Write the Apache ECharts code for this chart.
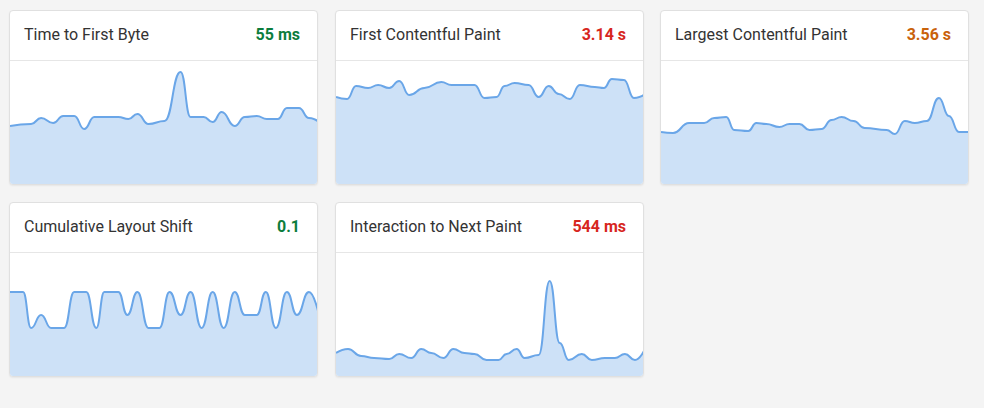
<!DOCTYPE html>
<html><head><meta charset="utf-8">
<script src="https://cdn.jsdelivr.net/npm/echarts@6/dist/echarts.min.js"></script>
<style>
html,body{margin:0;padding:0;background:#f4f4f4;font-family:Roboto,"Noto Sans",sans-serif;}
.card{position:absolute;width:309px;height:175px;background:#fff;border:1px solid #e0e0e0;border-radius:4px;box-sizing:border-box;overflow:hidden;box-shadow:0 1px 2px rgba(0,0,0,0.06);}
.hd{height:49px;border-bottom:1px solid #e6e6e6;display:flex;align-items:center;justify-content:space-between;padding:0 17px 3px 14px;box-sizing:border-box;height:50px;font-size:16px;color:#333;}
.hd b{font-weight:700;}
.ch{position:absolute;left:0;top:50px;width:309px;height:125px;}
</style></head><body>
<div id="root"></div>
<script>
const titles=["Time to First Byte","First Contentful Paint","Largest Contentful Paint","Cumulative Layout Shift","Interaction to Next Paint"];
const valueLabels=["55 ms","3.14 s","3.56 s","0.1","544 ms"];
const valueColors=["#0c7d3d","#d7261e","#c9620b","#0c7d3d","#d7261e"];
const ttfbX=[0,21,31,43,53,64,74,84,108,118,127,138,154,170,180,193,202,211,224,234,246,256,267,276,288,298,308];
const ttfbY=[60,62,68,63,70,70,57,69,69,67,72,62,65,114,69,69,64,74,60,69,70,67,67,78,78,68,64];
const fcpX=[0,11,20,32,42,53,63,73,88,105,115,138,148,160,168,178,192,202,212,222,233,243,258,267,275,287,297,308];
const fcpY=[89,87,100,98,101,98,105,91,98,104,101,101,88,89,100,103,101,89,100,92,87,101,99,98,107,106,88,92];
const lcpX=[0,12,28,43,53,65,73,87,95,105,118,128,138,148,160,170,180,192,203,225,233,243,253,265,277,287,297,308];
const lcpY=[54,53,63,63,68,69,56,55,63,62,59,62,62,56,57,66,69,65,58,56,52,65,63,65,88,70,54,54];
const clsX=[0,13,21,31,41,54,64,76,86,94,108,117,127,138,149,159,170,180,191,202,213,224,234,246,255,265,276,286,298,308];
const clsY=[86,86,50,63,50,50,86,86,50,86,86,63,86,50,50,86,63,86,50,86,50,86,63,63,86,50,86,63,86,63];
const inpX=[0,12,25,38,53,63,75,85,95,107,117,128,138,150,162,170,180,188,202,213,223,232,245,255,268,278,288,298,308];
const inpY=[25,29,22,20,19,24,20,29,25,20,29,25,24,18,18,24,29,20,23,97,35,18,24,18,20,20,24,18,29];
const seriesX=[ttfbX,fcpX,lcpX,clsX,inpX];
const seriesY=[ttfbY,fcpY,lcpY,clsY,inpY];
const pos=[[9,10],[335,10],[660,10],[9,202],[335,202]];
const root=document.getElementById('root');
titles.forEach((t,i)=>{
  const c=document.createElement('div');c.className='card';
  c.style.left=pos[i][0]+'px';c.style.top=pos[i][1]+'px';
  c.innerHTML='<div class="hd"><span>'+t+'</span><b style="color:'+valueColors[i]+'">'+valueLabels[i]+'</b></div><div class="ch"></div>';
  root.appendChild(c);
  const ch=echarts.init(c.querySelector('.ch'));
  ch.setOption({animation:false,grid:{left:0,right:0,top:0,bottom:0},
    xAxis:{type:'value',min:0,max:308,show:false},
    yAxis:{type:'value',min:0,max:125,show:false},
    series:[{type:'line',data:seriesX[i].map((x,k)=>[x,seriesY[i][k]]),smooth:0.5,smoothMonotone:'x',symbol:'none',
      lineStyle:{color:'#6aa6e8',width:2},areaStyle:{color:'#cde1f7',opacity:1}}]});
});
</script></body></html>
